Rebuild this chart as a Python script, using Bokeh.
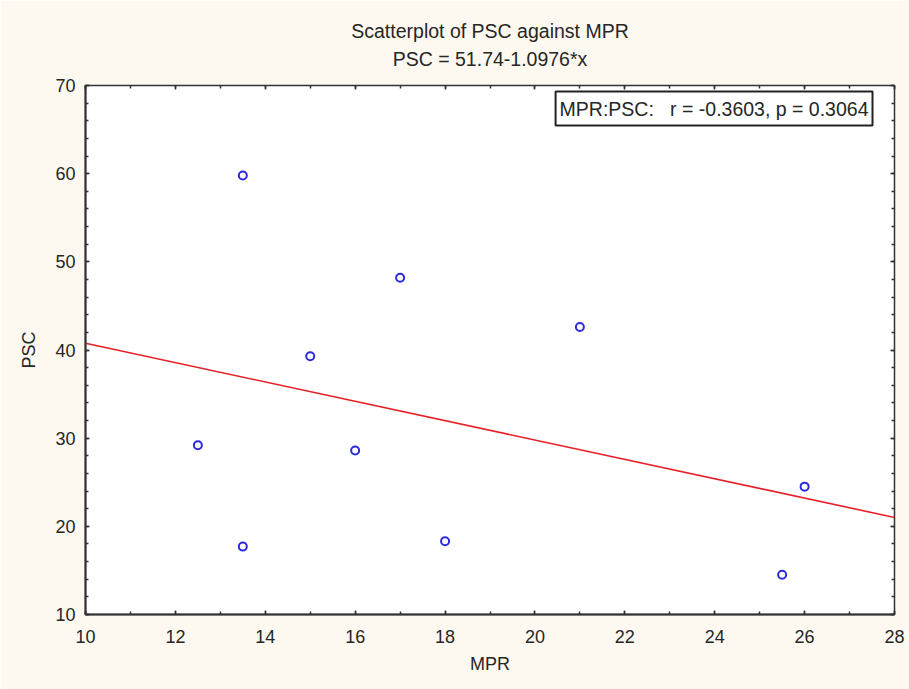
from bokeh.plotting import figure
from bokeh.models import (Range1d, LinearAxis, SingleIntervalTicker, Title, Label,
                          ColumnDataSource, CustomLabelingPolicy)
from bokeh.embed import file_html
from bokeh.resources import INLINE

# ---- data ----
mpr = [12.5, 13.5, 13.5, 15.0, 16.0, 17.0, 18.0, 21.0, 25.5, 26.0]
psc = [29.2, 59.8, 17.7, 39.3, 28.6, 48.2, 18.3, 42.6, 14.5, 24.5]
fit_intercept = 51.74
fit_slope = -1.0976
corr_r = -0.3603
corr_p = 0.3064
x_limits = [10, 28]
y_limits = [10, 70]

FONT = "Liberation Sans"
TXT = "#262626"
BG = "#fdf9f0"

p = figure(width=909, height=689, output_backend="svg", toolbar_location=None,
           title=None, x_range=Range1d(*x_limits), y_range=Range1d(*y_limits),
           x_axis_type=None, y_axis_type=None,
           min_border_left=85, min_border_right=10, min_border_top=85,
           min_border_bottom=75)
p.border_fill_color = BG
p.background_fill_color = "white"
p.outline_line_color = "#333333"
p.outline_line_width = 1.5

xt = SingleIntervalTicker(interval=2, num_minor_ticks=2)
yt = SingleIntervalTicker(interval=10, num_minor_ticks=5)

def style_axis(ax, labels=True):
    ax.axis_line_color = "#333333"
    ax.axis_line_width = 2
    ax.major_tick_in = 4
    ax.major_tick_out = 0
    ax.minor_tick_in = 3
    ax.minor_tick_out = 0
    ax.major_tick_line_color = "#333333"
    ax.minor_tick_line_color = "#333333"
    ax.major_tick_line_width = 1.5
    ax.minor_tick_line_width = 1.5
    if labels:
        ax.major_label_text_font = FONT
        ax.major_label_text_font_size = "18px"
        ax.major_label_text_color = TXT
        ax.axis_label_text_font = FONT
        ax.axis_label_text_font_size = "18px"
        ax.axis_label_text_font_style = "normal"
        ax.axis_label_text_color = TXT
    else:
        ax.major_label_policy = CustomLabelingPolicy(
            code="for (const i of indices) indices.unset(i); return indices")
        ax.major_label_standoff = 0
        ax.axis_line_color = None

xb = LinearAxis(ticker=xt, axis_label="MPR")
style_axis(xb)
xb.major_label_standoff = 15
xb.axis_label_standoff = 8
p.add_layout(xb, "below")

yl = LinearAxis(ticker=yt, axis_label="PSC")
style_axis(yl)
yl.major_label_standoff = 10
yl.axis_label_standoff = 13
p.add_layout(yl, "left")

xtop = LinearAxis(ticker=xt)
style_axis(xtop, labels=False)
p.add_layout(xtop, "above")

yr = LinearAxis(ticker=yt)
style_axis(yr, labels=False)
p.add_layout(yr, "right")

p.xgrid.ticker = xt
p.ygrid.ticker = yt
p.grid.grid_line_color = "#d9d9d9"
p.grid.grid_line_width = 1.5

# regression line across the x range
fx = list(x_limits)
fy = [fit_intercept + fit_slope * v for v in fx]
p.line(fx, fy, line_color="#e8202a", line_width=1.6)

src = ColumnDataSource(dict(x=mpr, y=psc))
p.scatter("x", "y", source=src, marker="circle", size=8, fill_color=None,
          line_color="#2b2bdd", line_width=2)

t2 = Title(text="PSC = %.2f-%.4f*x" % (fit_intercept, -fit_slope), align="center",
           text_font=FONT, text_font_size="19.5px", text_font_style="normal",
           text_color=TXT, standoff=9)
p.add_layout(t2, "above")
t1 = Title(text="Scatterplot of PSC against MPR", align="center",
           text_font=FONT, text_font_size="19.5px", text_font_style="normal",
           text_color=TXT, standoff=0)
p.add_layout(t1, "above")

NB = "\u00a0"
stats = Label(x=x_limits[1], y=y_limits[1], x_offset=-22, y_offset=-6,
              text="MPR:PSC:" + NB * 3 + "r = %.4f, p = %.4f" % (corr_r, corr_p),
              text_align="right", text_baseline="top",
              text_font=FONT, text_font_size="19.5px", text_color=TXT,
              background_fill_color="white", border_line_color="#222222",
              border_line_width=2, padding=(4, 6))
p.add_layout(stats)

open("out.html", "w").write(file_html(p, INLINE))
